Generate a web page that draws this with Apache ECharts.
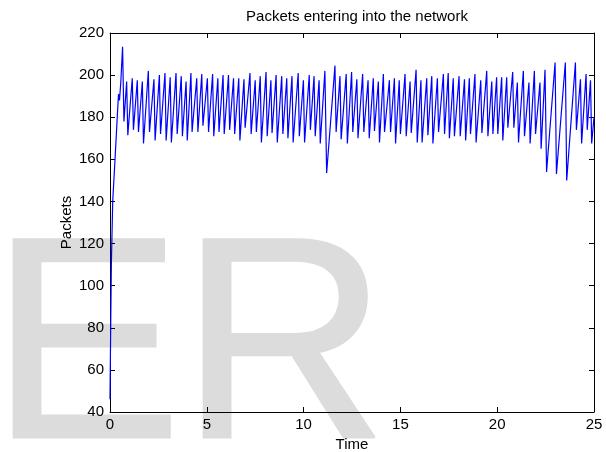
<!DOCTYPE html>
<html>
<head>
<meta charset="utf-8">
<title>Packets entering into the network</title>
<script src="https://cdn.jsdelivr.net/npm/echarts@6/dist/echarts.min.js"></script>
<style>
  html, body { margin: 0; padding: 0; background: #fff; }
  #chart { width: 606px; height: 452px; }
</style>
</head>
<body>
<div id="chart"></div>
<script>
// Simulated packets entering the network over time
const time = [
  0, 0.03, 0.07, 0.14, 0.26, 0.38, 0.44, 0.49, 0.56, 0.65,
  0.72, 0.86, 0.92, 1.15, 1.21, 1.41, 1.47, 1.67, 1.73, 1.98,
  2.04, 2.27, 2.33, 2.55, 2.61, 2.84, 2.90, 3.11, 3.17, 3.41,
  3.47, 3.68, 3.74, 3.93, 3.99, 4.18, 4.24, 4.48, 4.54, 4.74,
  4.80, 5.03, 5.09, 5.30, 5.36, 5.57, 5.63, 5.84, 5.90, 6.12,
  6.18, 6.38, 6.44, 6.65, 6.71, 6.92, 6.98, 7.23, 7.29, 7.50,
  7.56, 7.76, 7.82, 8.06, 8.12, 8.31, 8.37, 8.58, 8.64, 8.87,
  8.93, 9.13, 9.19, 9.40, 9.46, 9.72, 9.78, 9.99, 10.05, 10.29,
  10.35, 10.54, 10.60, 10.80, 10.86, 11.10, 11.19, 11.62, 11.68, 11.88,
  11.94, 12.20, 12.26, 12.48, 12.54, 12.75, 12.81, 13.05, 13.11, 13.33,
  13.39, 13.60, 13.66, 13.86, 13.92, 14.12, 14.18, 14.43, 14.49, 14.69,
  14.75, 14.94, 15.00, 15.24, 15.30, 15.50, 15.56, 15.81, 15.87, 16.06,
  16.12, 16.36, 16.42, 16.62, 16.68, 16.91, 16.97, 17.22, 17.28, 17.47,
  17.53, 17.73, 17.79, 18.03, 18.09, 18.31, 18.37, 18.56, 18.62, 18.85,
  18.91, 19.15, 19.21, 19.46, 19.52, 19.72, 19.78, 19.97, 20.03, 20.23,
  20.29, 20.49, 20.55, 20.80, 20.86, 21.04, 21.10, 21.35, 21.41, 21.64,
  21.70, 21.92, 21.98, 22.21, 22.27, 22.47, 22.55, 22.99, 23.06, 23.52,
  23.59, 24.04, 24.09, 24.30, 24.36, 24.59, 24.65, 24.82, 24.88, 25.0
];
const packets = [
  46, 75, 110, 140, 160, 181, 191, 188, 197, 213.5,
  178, 197, 171.5, 198.5, 174, 197.5, 173, 197, 167.5, 202,
  173, 198, 169, 200, 172, 201, 169, 199, 168, 201,
  172, 199.5, 171, 197, 169, 201, 173, 198.5, 173, 200.5,
  176, 198.5, 173, 200.5, 171, 198.5, 173, 200, 172, 200,
  174, 198.5, 172, 198.5, 169, 198, 175, 201, 172, 197.5,
  173, 199.5, 168, 201.5, 171, 197.5, 172.5, 200, 168, 199.5,
  172, 198.5, 170, 199.5, 168, 201, 171, 197.5, 168, 200,
  174, 199.5, 171, 197.5, 167.5, 202, 153.5, 204.5, 173, 199.5,
  169.5, 200.5, 167.5, 201.5, 173, 198, 170, 200.5, 173, 197.5,
  170, 198.5, 173.5, 197, 168, 200.5, 173, 197.5, 173, 198.5,
  167.5, 197.5, 172, 200.5, 171, 197, 172.5, 202.5, 168, 197.5,
  168, 198.5, 171.5, 199.5, 167.5, 198.5, 173, 200.5, 172, 201,
  170, 198.5, 171, 199.5, 171, 198, 169, 198.5, 172, 200.5,
  168, 197.5, 172.5, 202, 171, 197, 172, 199, 172, 199,
  169, 199, 175, 201.5, 175, 196.5, 168, 202, 171, 196.5,
  167.5, 202, 172, 196.5, 165, 202.5, 154, 206, 153, 206,
  150, 206, 174, 198, 167.5, 200.5, 174, 197.5, 167.5, 180
];
const xTicks = { min: 0, max: 25, interval: 5 };
const yTicks = { min: 40, max: 220, interval: 20 };

const FONT = '"Liberation Sans", Arial, Helvetica, sans-serif';
const LABEL_SIZE = 15;
const series = time.map((t, i) => [t, packets[i]]);

function axisBase(extra) {
  return Object.assign({
    type: 'value',
    axisLine: { show: true, onZero: false, lineStyle: { color: '#000', width: 1 } },
    axisTick: { show: true, inside: true, length: 5, lineStyle: { color: '#000', width: 1 } },
    axisLabel: { color: '#000', fontSize: LABEL_SIZE, fontFamily: FONT },
    splitLine: { show: false }
  }, extra);
}

// large pale watermark letters behind the plot
function watermark(letter, x) {
  return {
    type: 'text',
    x: x,
    y: 358,
    z: -10,
    silent: true,
    style: {
      text: letter,
      fontSize: 288,
      fontFamily: FONT,
      fill: '#dcdcdc',
      stroke: '#dcdcdc',
      lineWidth: 2,
      align: 'left',
      verticalAlign: 'middle'
    }
  };
}

const chart = echarts.init(document.getElementById('chart'), null, { renderer: 'canvas' });
chart.setOption({
  animation: false,
  backgroundColor: '#fff',
  title: {
    text: 'Packets entering into the network',
    left: 352,
    textAlign: 'center',
    top: 4,
    textStyle: { color: '#000', fontSize: 15, fontWeight: 'normal', fontFamily: FONT }
  },
  graphic: [watermark('E', -10), watermark('R', 180)],
  grid: { left: 110, right: 12, top: 33, bottom: 40, containLabel: false, outerBoundsMode: 'none' },
  xAxis: [
    axisBase(Object.assign({}, xTicks, {
      position: 'bottom',
      name: 'Time',
      nameLocation: 'middle',
      nameGap: 25,
      nameMoveOverlap: false,
      nameTextStyle: { color: '#000', fontSize: LABEL_SIZE, fontFamily: FONT },
      axisLabel: { color: '#000', fontSize: LABEL_SIZE, fontFamily: FONT, margin: 5 }
    })),
    axisBase(Object.assign({}, xTicks, {
      position: 'top',
      axisLabel: { show: false }
    }))
  ],
  yAxis: [
    axisBase(Object.assign({}, yTicks, {
      position: 'left',
      name: 'Packets',
      nameLocation: 'middle',
      nameGap: 36,
      nameMoveOverlap: false,
      nameRotate: 90,
      nameTextStyle: { color: '#000', fontSize: LABEL_SIZE, fontFamily: FONT },
      axisLabel: { color: '#000', fontSize: LABEL_SIZE, fontFamily: FONT, margin: 6 }
    })),
    axisBase(Object.assign({}, yTicks, {
      position: 'right',
      axisLabel: { show: false }
    }))
  ],
  series: [{
    type: 'line',
    data: series,
    xAxisIndex: 0,
    yAxisIndex: 0,
    showSymbol: false,
    symbol: 'none',
    lineStyle: { color: '#0000ff', width: 1.2 },
    z: 3
  }]
});
</script>
</body>
</html>
